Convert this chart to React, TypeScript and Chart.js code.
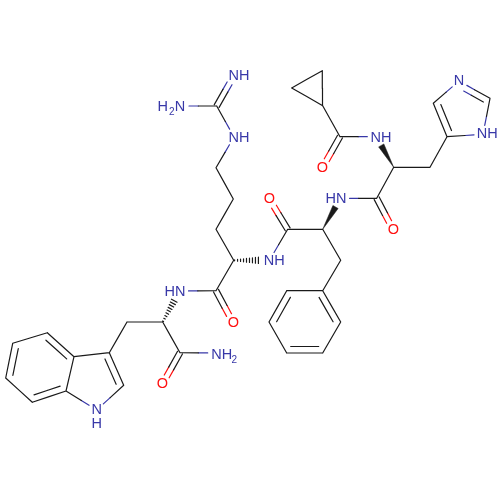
import React, { useEffect, useRef } from 'react';
import { Chart, registerables } from 'chart.js';

Chart.register(...registerables);

const BLACK = '#1a1a1a';
const BLUE = '#3838a8';
const RED = '#ff1010';

const atomX = [322.3, 291.7, 322.7, 340, 322.3, 376.3, 393.7, 430, 447, 433.3, 459, 490, 483, 376.7, 393.3, 340.5, 322.7, 287.7, 269.3, 269.5, 340.7, 322.7, 286.7, 269, 286.7, 322.7, 340.7, 233.7, 216, 233.3, 216, 234, 216.7, 234, 180, 216, 233.3, 179.5, 162.7, 127, 109.3, 123.7, 96.7, 66, 74, 47.3, 12.7, 5.7, 32.3, 180, 162.3, 216.7];
const atomY = [70.7, 88, 105.7, 136.7, 168, 136.7, 167.3, 167.3, 136.7, 103.3, 81, 98.3, 134.3, 198.3, 230, 198.3, 229.3, 229.3, 199, 260.3, 260.3, 290.7, 290.7, 322, 353, 353, 322, 260.3, 229.3, 199, 167.7, 137, 106, 75.5, 106, 290.7, 323, 291, 322, 322, 352.7, 385.3, 410, 391, 356.7, 332.7, 343.3, 378, 402.3, 352.7, 384.3, 353];
const atomElement = 'CCCCONCCCCNCNCONCCONCCCCCCCCCCCNCNNCONCCCCNCCCCCCCON';

const singleBonds = [[0, 1], [1, 2], [2, 0], [2, 3], [3, 5], [6, 7], [7, 8], [8, 12], [12, 11], [9, 10], [6, 13], [13, 15], [16, 17], [17, 19], [16, 20], [20, 21], [21, 22], [23, 24], [25, 26], [26, 21], [24, 25], [22, 23], [27, 28], [28, 29], [29, 30], [30, 31], [31, 32], [32, 34], [27, 35], [35, 37], [38, 39], [39, 40], [38, 49], [49, 51], [40, 44], [41, 42], [42, 43], [43, 44], [48, 47], [46, 45], [44, 43]];
const centredDoubles = [[3, 4], [13, 14], [17, 18], [32, 33], [35, 36], [49, 50]];
// written clockwise on screen, the second line goes on the inner side
const ringDoubles = [[8, 9], [10, 11], [21, 26], [25, 24], [23, 22], [40, 41], [43, 48], [47, 46], [45, 44]];
const wedgeBonds = [[6, 5], [16, 15]];
const hashBonds = [[27, 19], [38, 37]];

const labelText = ['NH', 'N', 'NH', 'O', 'HN', 'O', 'O', 'NH', 'NH', 'NH', 'H', '2', 'N', 'O', 'HN', 'NH', '2', 'O', 'N', 'H'];
const labelX = [381, 459, 487.3, 322.3, 336, 393.3, 269.3, 274.3, 239, 239, 162.7, 171.7, 180, 233.3, 175, 221.7, 234.3, 162.3, 96.7, 96.7];
const labelY = [138.3, 81, 134.3, 168, 199, 230, 199, 261, 138.3, 76, 107.3, 112.7, 107.3, 323.3, 292.3, 354.7, 360, 384.3, 410, 424.3];
const labelColor = [BLUE, BLUE, BLUE, RED, BLUE, RED, RED, BLUE, BLUE, BLUE, BLUE, BLUE, BLUE, RED, BLUE, BLUE, BLUE, RED, BLUE, BLUE];

const colorOf = (i: number) => (atomElement[i] === 'O' ? RED : atomElement[i] === 'N' ? BLUE : BLACK);
const trimOf = (i: number) => (atomElement[i] === 'C' ? 0 : 9);

type Pt = { x: number | null; y: number | null };
const lines: Record<string, Pt[]> = { [BLACK]: [], [BLUE]: [], [RED]: [] };

const pushLine = (color: string, x1: number, y1: number, x2: number, y2: number) => {
  lines[color].push({ x: x1, y: y1 }, { x: x2, y: y2 }, { x: null, y: null });
};

// one bond line, half in each atom's colour, moved by off and shortened by cut
const addBond = (a: number, b: number, off = 0, cut = 0) => {
  const dx = atomX[b] - atomX[a];
  const dy = atomY[b] - atomY[a];
  const len = Math.hypot(dx, dy);
  const ux = dx / len;
  const uy = dy / len;
  const ox = -uy * off;
  const oy = ux * off;
  const sa = Math.max(trimOf(a), cut);
  const sb = Math.max(trimOf(b), cut);
  const mx = (atomX[a] + atomX[b]) / 2 + ox;
  const my = (atomY[a] + atomY[b]) / 2 + oy;
  pushLine(colorOf(a), atomX[a] + ux * sa + ox, atomY[a] + uy * sa + oy, mx, my);
  pushLine(colorOf(b), mx, my, atomX[b] - ux * sb + ox, atomY[b] - uy * sb + oy);
};

singleBonds.forEach(([a, b]) => addBond(a, b));
centredDoubles.forEach(([a, b]) => {
  addBond(a, b, 2.8);
  addBond(a, b, -2.8);
});
ringDoubles.forEach(([a, b]) => {
  addBond(a, b);
  addBond(a, b, 6.5, 4);
});

hashBonds.forEach(([a, b]) => {
  const dx = atomX[b] - atomX[a];
  const dy = atomY[b] - atomY[a];
  const len = Math.hypot(dx, dy);
  const reach = len - 9;
  for (let i = 0; i < 9; i++) {
    const t = (i + 0.3) / 9;
    const half = 0.4 + t * 3;
    const cx = atomX[a] + (dx / len) * reach * t;
    const cy = atomY[a] + (dy / len) * reach * t;
    pushLine(BLACK, cx - (dy / len) * half, cy + (dx / len) * half, cx + (dy / len) * half, cy - (dx / len) * half);
  }
});

const wedgeData = wedgeBonds.map(([a, b]) => {
  const dx = atomX[b] - atomX[a];
  const dy = atomY[b] - atomY[a];
  const len = Math.hypot(dx, dy);
  const reach = len - 10;
  const cx = atomX[a] + (dx / len) * reach;
  const cy = atomY[a] + (dy / len) * reach;
  const half = 3;
  return [
    { x: atomX[a], y: atomY[a] },
    { x: cx - (dy / len) * half, y: cy + (dx / len) * half },
    { x: cx + (dy / len) * half, y: cy - (dx / len) * half },
    { x: atomX[a], y: atomY[a] },
  ];
});

const atomLabels = {
  id: 'atomLabels',
  afterDatasetsDraw(chart: Chart) {
    const { ctx, scales } = chart;
    ctx.save();
    ctx.textAlign = 'center';
    ctx.textBaseline = 'middle';
    labelText.forEach((text, i) => {
      ctx.font = `${text === '2' ? 10 : 14.5}px "Liberation Sans"`;
      ctx.fillStyle = labelColor[i];
      ctx.fillText(text, scales.x.getPixelForValue(labelX[i]), scales.y.getPixelForValue(labelY[i]));
    });
    ctx.restore();
  },
};

const App: React.FC = () => {
  const canvasRef = useRef<HTMLCanvasElement>(null);

  useEffect(() => {
    if (!canvasRef.current) return;
    const lineSets = Object.keys(lines).map((color) => ({
      data: lines[color],
      showLine: true,
      spanGaps: false,
      borderColor: color,
      borderWidth: 1.2,
      borderCapStyle: 'round' as const,
      pointRadius: 0,
    }));
    const wedgeSets = wedgeData.map((data) => ({
      data,
      showLine: true,
      fill: 'shape',
      borderColor: BLACK,
      backgroundColor: BLACK,
      borderWidth: 0.5,
      pointRadius: 0,
    }));
    const chart = new Chart(canvasRef.current, {
      type: 'scatter',
      data: { datasets: [...lineSets, ...wedgeSets] as any },
      options: {
        animation: false,
        responsive: false,
        devicePixelRatio: 1,
        layout: { padding: 0 },
        plugins: { legend: { display: false }, tooltip: { enabled: false } },
        scales: {
          x: { type: 'linear', display: false, min: 0, max: 500 },
          y: { type: 'linear', display: false, min: 0, max: 500, reverse: true },
        },
      },
      plugins: [atomLabels],
    });
    return () => chart.destroy();
  }, []);

  return (
    <div style={{ position: 'absolute', left: 0, top: 0, width: 500, height: 500, background: '#fff' }}>
      <canvas ref={canvasRef} width={500} height={500} />
    </div>
  );
};

export default App;
